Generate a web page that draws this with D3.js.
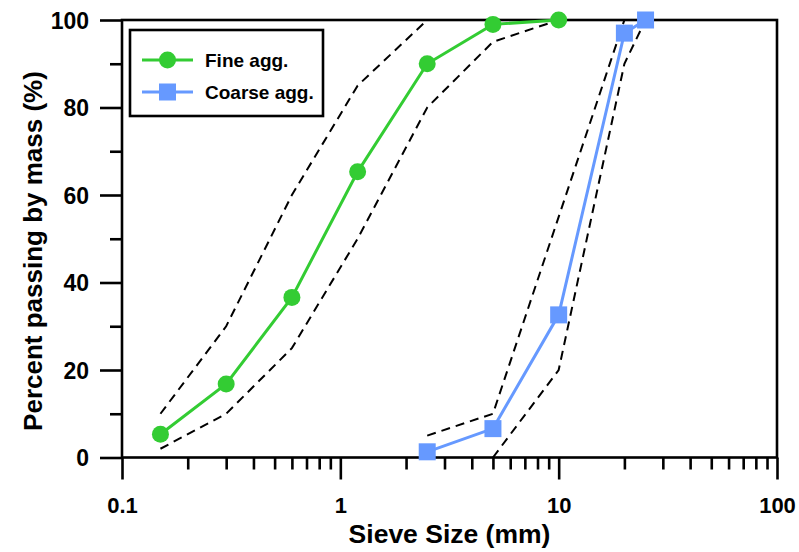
<!DOCTYPE html>
<html>
<head>
<meta charset="utf-8">
<script src="https://cdn.jsdelivr.net/npm/d3@7"></script>
<style>
  html, body { margin: 0; padding: 0; background: #fff; }
  svg { display: block; }
  text { font-family: "Liberation Sans", Arial, sans-serif; font-weight: bold; }
</style>
</head>
<body>
<svg id="chart" width="799" height="552"></svg>
<script>
// ---- data ----
const fineSieves   = [0.15, 0.3, 0.6, 1.2, 2.5, 5, 10];
const finePassing  = [5.3, 16.8, 36.6, 65.3, 90.0, 99.0, 100];
const fineUpperSieves = [0.15, 0.3, 0.6, 1.2, 2.5, 5, 10];
const fineUpper    = [10, 30, 60, 85, 100, 100, 100];
const fineLowerSieves = [0.15, 0.3, 0.6, 1.2, 2.5, 5, 10];
const fineLower    = [2, 10, 25, 50, 80, 95, 100];

const coarseSieves  = [2.5, 5, 10, 20, 25];
const coarsePassing = [1.3, 6.6, 32.6, 97.0, 100];
const coarseUpperSieves = [2.5, 5, 10, 20, 25];
const coarseUpper   = [5, 10, 55, 100, 100];
const coarseLowerSieves = [5, 10, 20, 25];
const coarseLower   = [0, 20, 90, 100];

const xMajorTicks = [0.1, 1, 10, 100];
const xTickLabels = ["0.1", "1", "10", "100"];
const yMajorTicks = [0, 20, 40, 60, 80, 100];
const yMinorTicks = [10, 30, 50, 70, 90];
const seriesNames = ["Fine agg.", "Coarse agg."];
const seriesColors = ["#33cc33", "#6699ff"];

// ---- layout ----
const svg = d3.select("#chart");
const x = d3.scaleLog().domain([0.1, 100]).range([122, 777]);
const y = d3.scaleLinear().domain([0, 100]).range([457.5, 20]);

const xMinorTicks = [];
[0.1, 1, 10].forEach(d => { for (let k = 2; k <= 9; k++) xMinorTicks.push(+(d * k).toPrecision(3)); });

// frame
svg.append("rect")
  .attr("x", x(0.1)).attr("y", y(100))
  .attr("width", x(100) - x(0.1)).attr("height", y(0) - y(100))
  .attr("fill", "none").attr("stroke", "#000").attr("stroke-width", 2.6);

// x axis
const xAxisMinor = d3.axisBottom(x).tickValues(xMinorTicks).tickSize(12).tickFormat("");
const xAxisMajor = d3.axisBottom(x).tickValues(xMajorTicks).tickSize(22)
  .tickFormat((d, i) => xTickLabels[i]).tickPadding(10);
const gxm = svg.append("g").attr("transform", `translate(0,${y(0)})`).call(xAxisMinor);
const gx = svg.append("g").attr("transform", `translate(0,${y(0)})`).call(xAxisMajor);
[gxm, gx].forEach(g => {
  g.select(".domain").remove();
  g.selectAll(".tick line").attr("stroke", "#000").attr("stroke-width", 2.6);
});
gx.selectAll(".tick text").attr("fill", "#000").style("font-size", "22px")
  .attr("dy", null).attr("y", 55);

// y axis
const yAxisMinor = d3.axisLeft(y).tickValues(yMinorTicks).tickSize(12).tickFormat("");
const yAxisMajor = d3.axisLeft(y).tickValues(yMajorTicks).tickSize(22).tickFormat(d3.format("d")).tickPadding(10);
const gym = svg.append("g").attr("transform", `translate(${x(0.1)},0)`).call(yAxisMinor);
const gy = svg.append("g").attr("transform", `translate(${x(0.1)},0)`).call(yAxisMajor);
[gym, gy].forEach(g => {
  g.select(".domain").remove();
  g.selectAll(".tick line").attr("stroke", "#000").attr("stroke-width", 2.6);
});
gy.selectAll(".tick text").attr("fill", "#000").style("font-size", "23px")
  .attr("x", -33).attr("dy", "0.36em");

// axis titles
svg.append("text").attr("x", 449.5).attr("y", 543).attr("text-anchor", "middle")
  .style("font-size", "26.5px").text("Sieve Size (mm)");
svg.append("text").attr("transform", "translate(42,251) rotate(-90)").attr("text-anchor", "middle")
  .style("font-size", "26px").text("Percent passing by mass (%)");

// lines
const line = d3.line().x(d => x(d[0])).y(d => y(d[1]));
const zip = (a, b) => a.map((v, i) => [v, b[i]]);

const limits = [
  zip(fineUpperSieves, fineUpper), zip(fineLowerSieves, fineLower),
  zip(coarseUpperSieves, coarseUpper), zip(coarseLowerSieves, coarseLower)
];
svg.append("g").selectAll("path").data(limits).join("path")
  .attr("d", line).attr("fill", "none").attr("stroke", "#000")
  .attr("stroke-width", 2).attr("stroke-dasharray", "9,6");

const fineData = zip(fineSieves, finePassing);
const coarseData = zip(coarseSieves, coarsePassing);

svg.append("path").attr("d", line(fineData)).attr("fill", "none")
  .attr("stroke", seriesColors[0]).attr("stroke-width", 3);
svg.append("path").attr("d", line(coarseData)).attr("fill", "none")
  .attr("stroke", seriesColors[1]).attr("stroke-width", 3);

svg.append("g").selectAll("circle").data(fineData).join("circle")
  .attr("cx", d => x(d[0])).attr("cy", d => y(d[1])).attr("r", 8.5)
  .attr("fill", seriesColors[0]);
const sq = 17;
svg.append("g").selectAll("rect").data(coarseData).join("rect")
  .attr("x", d => x(d[0]) - sq / 2).attr("y", d => y(d[1]) - sq / 2)
  .attr("width", sq).attr("height", sq).attr("fill", seriesColors[1]);

// legend
const lg = svg.append("g");
lg.append("rect").attr("x", 130).attr("y", 30).attr("width", 193).attr("height", 86)
  .attr("fill", "#fff").attr("stroke", "#000").attr("stroke-width", 2.6);
seriesNames.forEach((name, i) => {
  const cy = 60 + i * 32;
  lg.append("line").attr("x1", 142).attr("x2", 193).attr("y1", cy).attr("y2", cy)
    .attr("stroke", seriesColors[i]).attr("stroke-width", 3);
  if (i === 0) {
    lg.append("circle").attr("cx", 167.5).attr("cy", cy).attr("r", 8.5).attr("fill", seriesColors[i]);
  } else {
    lg.append("rect").attr("x", 167.5 - sq / 2).attr("y", cy - sq / 2).attr("width", sq).attr("height", sq)
      .attr("fill", seriesColors[i]);
  }
  lg.append("text").attr("x", 205).attr("y", cy).attr("dy", "0.35em")
    .style("font-size", "19px").text(name);
});
</script>
</body>
</html>
